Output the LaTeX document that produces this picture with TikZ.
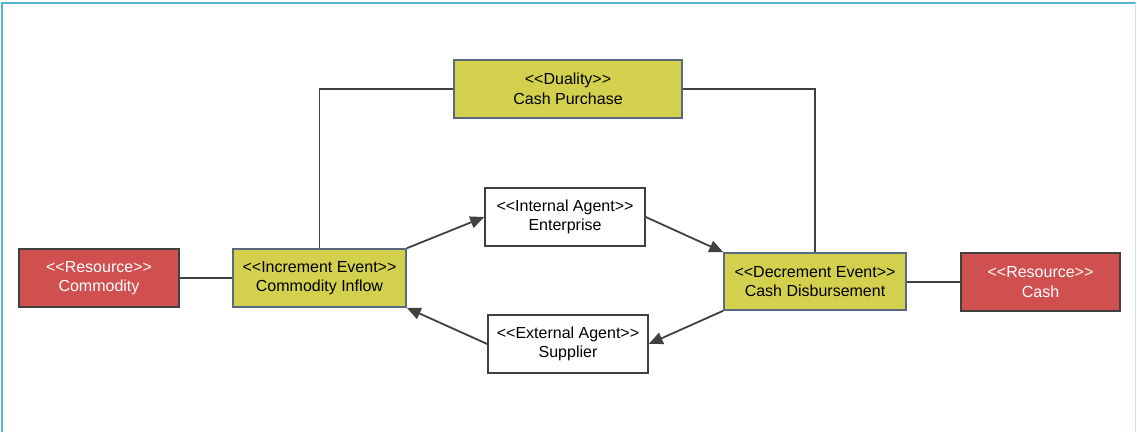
\documentclass[tikz,border=0pt]{standalone}
\usepackage{fontspec}
\setmainfont{Liberation Sans}[Ligatures=TeXOff]
\usetikzlibrary{arrows.meta}
\definecolor{eventfill}{RGB}{211,208,78}
\definecolor{resfill}{RGB}{208,80,80}
\definecolor{linegray}{RGB}{64,64,64}
\definecolor{eventedge}{RGB}{90,105,125}
\definecolor{framecol}{RGB}{80,180,210}
\definecolor{framelight}{RGB}{200,230,242}
\tikzset{
  box/.style={rectangle, draw=linegray, line width=1.5pt, align=center,
    font=\fontsize{16}{19.5}\selectfont, inner sep=0pt},
  eventbox/.style={box, fill=eventfill, draw=eventedge, text=black},
  resbox/.style={box, fill=resfill, text=white},
  agentbox/.style={box, fill=white, text=black},
  link/.style={draw=linegray, line width=1.8pt},
  flow/.style={link, -{Triangle[length=14pt,width=12pt]}},
}
\begin{document}
\begin{tikzpicture}[x=1pt,y=-1pt]
\useasboundingbox (0,0) rectangle (1137,432);
% outer frame
\draw[framecol, line width=2pt] (1.5,432) -- (1.5,2.5) -- (1135.5,2.5);
\draw[framelight, line width=1.5pt] (1135.5,2.5) -- (1135.5,432);

% nodes
\node[resbox, minimum width=160pt, minimum height=58pt] (comm) at (99,278) {<<Resource>>\\Commodity};
\node[eventbox, minimum width=173pt, minimum height=58pt] (inc) at (319.5,278) {<<Increment Event>>\\Commodity Inflow};
\node[eventbox, minimum width=228pt, minimum height=58pt] (dual) at (568,89) {<<Duality>>\\Cash Purchase};
\node[agentbox, minimum width=160pt, minimum height=58pt] (int) at (565,217) {<<Internal Agent>>\\Enterprise};
\node[agentbox, minimum width=160pt, minimum height=58pt] (ext) at (568,344) {<<External Agent>>\\Supplier};
\node[eventbox, minimum width=182pt, minimum height=57pt] (dec) at (815,281.5) {<<Decrement Event>>\\Cash Disbursement};
\node[resbox, minimum width=159pt, minimum height=58pt] (cash) at (1040.5,282) {<<Resource>>\\Cash};

% plain associations
\draw[link] (comm.east) -- (comm.east -| inc.west);
\draw[link] (dec.east |- cash.west) -- (cash.west);
\draw[link] (dual.west) -| (inc.north);
\draw[link] (dual.east) -| (dec.north);

% directed flows
\draw[flow] (inc.north east) -- (int.west);
\draw[flow] (int.east) -- (dec.north west);
\draw[flow] (dec.south west) -- (ext.east);
\draw[flow] (ext.west) -- (inc.south east);
\end{tikzpicture}
\end{document}
